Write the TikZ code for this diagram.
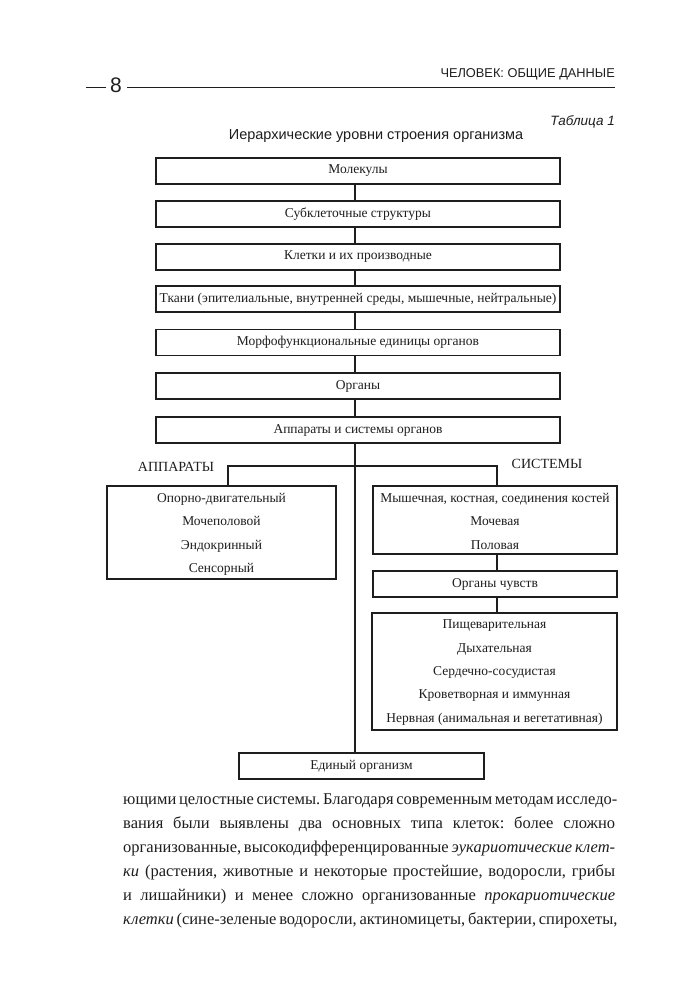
\documentclass[tikz,border=0pt]{standalone}
\usepackage{fontspec}
\setmainfont{Liberation Serif}
\setsansfont{Liberation Sans}
\definecolor{ink}{HTML}{1E1E1E}
\frenchspacing
\begin{document}
\begin{tikzpicture}[x=1pt,y=-1pt,
  box/.style={draw=ink, line width=1.6pt, minimum height=26pt, inner sep=0pt,
    font=\fontsize{13.5}{23.4}\selectfont, text=ink, align=center},
  conn/.style={draw=ink, line width=1.3pt},
  lbl/.style={font=\fontsize{14}{16}\selectfont, text=ink, inner sep=0pt},
  sans/.style={font=\sffamily\fontsize{#1}{#1}\selectfont, text=ink, inner sep=0pt}]
\useasboundingbox[fill=white] (0,0) rectangle (682,1001);

% header
\node[sans=12.8, anchor=base east] (hdr) at (615,77) {ЧЕЛОВЕК: ОБЩИЕ ДАННЫЕ};
\node[sans=21, anchor=base] (pg) at (116,92) {8};
\coordinate (d1) at (86,87);
\coordinate (hend) at (615,87);
\draw[ink, line width=1pt] (d1) -- ([xshift=-4pt]pg.west |- d1);
\draw[ink, line width=1pt] ([xshift=5pt]pg.east |- d1) -- (hend);

\node[font=\sffamily\itshape\fontsize{13.5}{15}\selectfont, text=ink, anchor=base east, inner sep=0pt] (tab) at (615,125) {Таблица 1};
\node[sans=14.5, anchor=base] (title) at (376,139) {Иерархические уровни строения организма};

% main chain
\coordinate (axis) at (355,0);
\node[box, minimum width=404pt] (mol) at (358,171) {Молекулы};
\node[box, minimum width=404pt] (sub) at (358,214) {Субклеточные структуры};
\node[box, minimum width=404pt] (cell) at (358,257) {Клетки и их производные};
\node[box, minimum width=404pt] (tis) at (358,299) {Ткани (эпителиальные, внутренней среды, мышечные, нейтральные)};
\node[box, minimum width=404pt] (morph) at (358,342.5) {Морфофункциональные единицы органов};
\node[box, minimum width=404pt] (org) at (358,386) {Органы};
\node[box, minimum width=404pt] (aps) at (358,430) {Аппараты и системы органов};

\draw[conn] (mol.south -| axis) -- (sub.north -| axis);
\draw[conn] (sub.south -| axis) -- (cell.north -| axis);
\draw[conn] (cell.south -| axis) -- (tis.north -| axis);
\draw[conn] (tis.south -| axis) -- (morph.north -| axis);
\draw[conn] (morph.south -| axis) -- (org.north -| axis);
\draw[conn] (org.south -| axis) -- (aps.north -| axis);

% branches
\node[lbl] (lapp) at (176,467) {АППАРАТЫ};
\node[lbl] (lsys) at (547,464) {СИСТЕМЫ};

\node[box, minimum width=229pt, minimum height=93pt] (app) at (221.5,532.5)
  {\rule{0pt}{13pt}Опорно-двигательный\\Мочеполовой\\Эндокринный\\Сенсорный};
\node[box, minimum width=244pt, minimum height=68pt] (sys1) at (495,520)
  {\rule{0pt}{12pt}Мышечная, костная, соединения костей\\Мочевая\\Половая};
\node[box, minimum width=244pt] (senses) at (495,584) {Органы чувств};
\node[box, minimum width=245pt, minimum height=117pt] (sys2) at (494.5,671.5)
  {\rule{0pt}{11pt}Пищеварительная\\Дыхательная\\Сердечно-сосудистая\\Кроветворная и иммунная\\Нервная (анимальная и вегетативная)};
\node[box, minimum width=245pt] (whole) at (361.5,766) {Единый организм};

\coordinate (lj) at (228,466);
\coordinate (rj) at (497,466);
\draw[conn] (aps.south -| axis) -- (whole.north -| axis);
\draw[conn] (app.north -| lj) -- (lj) -- (rj) -- (sys1.north -| rj);
\draw[conn] (sys1.south -| rj) -- (senses.north -| rj);
\draw[conn] (senses.south -| rj) -- (sys2.north -| rj);

% body text
\node[anchor=north west, inner sep=0pt, text=ink, align=left,
  font=\fontsize{16.5}{24}\selectfont\frenchspacing] (body) at (123,793) {%
\makebox[492pt][s]{ющими целостные системы. Благодаря современным методам исследо-}\\
\makebox[492pt][s]{вания были выявлены два основных типа клеток: более сложно}\\
\makebox[492pt][s]{организованные, высокодифференцированные \textit{эукариотические клет-}}\\
\makebox[492pt][s]{\textit{ки} (растения, животные и некоторые простейшие, водоросли, грибы}\\
\makebox[492pt][s]{и лишайники) и менее сложно организованные \textit{прокариотические}}\\
\makebox[492pt][s]{\textit{клетки} (сине-зеленые водоросли, актиномицеты, бактерии, спирохеты,}};
\end{tikzpicture}
\end{document}
